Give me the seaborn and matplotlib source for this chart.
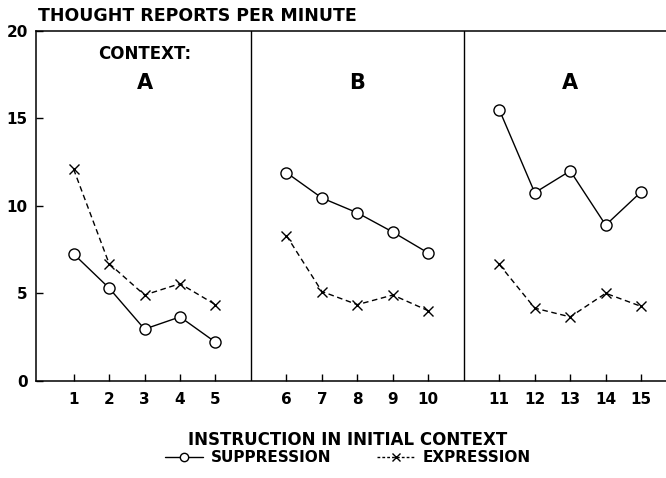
import pandas as pd
import matplotlib
matplotlib.use("Agg")
import matplotlib.pyplot as plt
from matplotlib.lines import Line2D
import seaborn as sns

# values
trials = list(range(1, 16))
blocks = [1] * 5 + [2] * 5 + [3] * 5
suppression = [7.25, 5.3, 2.95, 3.65, 2.2,
               11.9, 10.45, 9.6, 8.5, 7.3,
               15.5, 10.75, 12.0, 8.9, 10.8]
expression = [12.1, 6.7, 4.9, 5.55, 4.35,
              8.3, 5.1, 4.35, 4.9, 4.0,
              6.65, 4.15, 3.65, 5.0, 4.25]
contexts = ["A", "B", "A"]
y_ticks = [0, 5, 10, 15, 20]

sns.set_style("ticks")
plt.rcParams["font.family"] = ["DejaVu Sans"]
plt.rcParams["font.weight"] = "bold"
plt.rcParams["text.color"] = "black"
plt.rcParams["xtick.color"] = "black"
plt.rcParams["ytick.color"] = "black"

# each block is shifted one slot to leave a gap between panels
pos = [t + b - 1 for t, b in zip(trials, blocks)]
df = pd.DataFrame({"pos": pos, "block": blocks,
                   "suppression": suppression, "expression": expression})

fig = plt.figure(figsize=(6.66, 4.78), dpi=100)
ax = fig.add_axes([36 / 666, (478 - 380.7) / 478, 630 / 666, (380.7 - 31) / 478])

sns.lineplot(data=df, x="pos", y="suppression", units="block", estimator=None,
             color="black", linewidth=1.0, marker="o", markersize=8,
             markerfacecolor="white", markeredgecolor="black", markeredgewidth=1.0,
             ax=ax, zorder=3)
sns.lineplot(data=df, x="pos", y="expression", units="block", estimator=None,
             color="black", linewidth=1.0, linestyle=(0, (4, 2.6)), marker="x",
             markersize=7.5, markeredgecolor="black", markeredgewidth=1.0,
             ax=ax, zorder=3)

# panel dividers
for b in [1, 2]:
    ax.axvline(b * 6, color="black", linewidth=1.0, zorder=1)

ax.set_xlim(-0.06, 17.7)
ax.set_ylim(0, 20)
ax.set_xticks(pos)
ax.set_xticklabels([str(t) for t in trials])
ax.set_yticks(y_ticks)
ax.set_xlabel("")
ax.set_ylabel("")
ax.tick_params(axis="both", direction="in", length=5, width=1.0,
               labelsize=11, colors="black")
ax.tick_params(axis="x", pad=8)
ax.tick_params(axis="y", pad=6)
for side in ["left", "bottom", "top"]:
    ax.spines[side].set_linewidth(1.1)
    ax.spines[side].set_color("black")
ax.spines["right"].set_visible(False)

# context labels
for i, c in enumerate(contexts):
    center = 3 + 6 * i
    ax.text(center, 17.05, c, fontsize=15, fontweight="bold",
            ha="center", va="center", color="black")
ax.text(3, 18.7, "CONTEXT:", fontsize=12, fontweight="bold",
        ha="center", va="center", color="black")

fig.text(38 / 666, (478 - 20.7) / 478, "THOUGHT REPORTS PER MINUTE",
         fontsize=12.5, fontweight="bold", ha="left", va="baseline", color="black")
fig.text(348 / 666, (478 - 445) / 478, "INSTRUCTION IN INITIAL CONTEXT",
         fontsize=12, fontweight="bold", ha="center", va="baseline", color="black")

handles = [
    Line2D([], [], color="black", linewidth=1.0, marker="o", markersize=6,
           markerfacecolor="white", markeredgecolor="black"),
    Line2D([], [], color="black", linewidth=1.0, linestyle=(0, (2, 1.5)),
           marker="x", markersize=5.5, markeredgecolor="black"),
]
fig.legend(handles, ["SUPPRESSION", "EXPRESSION"], loc="center",
           bbox_to_anchor=(348 / 666, (478 - 458) / 478), ncol=2,
           frameon=False, handlelength=2.5, handletextpad=0.5,
           columnspacing=3.0, borderpad=0, labelcolor="black",
           prop={"weight": "bold", "size": 11})

fig.savefig("out.png", dpi=100)
